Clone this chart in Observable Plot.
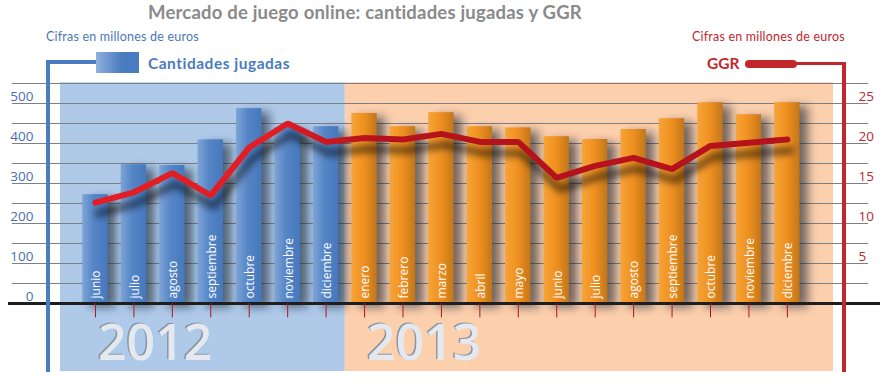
<!DOCTYPE html>
<html>
<head>
<meta charset="utf-8">
<script src="https://cdn.jsdelivr.net/npm/d3@7"></script>
<script src="https://cdn.jsdelivr.net/npm/@observablehq/plot@0.6"></script>
<style>
  html, body { margin: 0; padding: 0; background: #fff; }
  #wrap { position: relative; width: 892px; height: 382px; overflow: hidden; font-family: Lato, "Open Sans", sans-serif; }
  #header { position: relative; height: 80px; }
  .abs { position: absolute; white-space: nowrap; }
  #title { left: 148px; top: 1px; font-size: 18.5px; letter-spacing: 0.2px; font-weight: 700; color: #8a8a8a; line-height: 22px; }
  .sub { top: 29px; font-size: 12.5px; letter-spacing: 0.2px; line-height: 16px; }
  #subL { left: 46px; color: #4a78b8; }
  #subR { left: 692px; color: #c1272d; }
  #legL { left: 148px; top: 54px; font-size: 15.5px; letter-spacing: 0.5px; font-weight: 700; color: #4a7cc0; line-height: 18px; }
  #legR { left: 707px; top: 54px; font-size: 15.5px; font-weight: 700; color: #c1272d; line-height: 18px; }
  #swatchL { left: 96px; top: 52px; width: 43px; height: 21px; background: linear-gradient(to right, #8fb0dc, #4a7cc0 60%, #4a7cc0); }
  #swatchR { left: 745px; top: 60px; width: 52px; height: 8px; border-radius: 4px; background: #c1272d; }
  .line { position: absolute; z-index: 5; }
  #chart { position: relative; }
</style>
</head>
<body>
<div id="wrap">
  <div id="header">
    <div class="abs" id="title">Mercado de juego online: cantidades jugadas y GGR</div>
    <div class="abs sub" id="subL">Cifras en millones de euros</div>
    <div class="abs sub" id="subR">Cifras en millones de euros</div>
    <div class="abs" id="swatchL"></div>
    <div class="abs" id="legL">Cantidades jugadas</div>
    <div class="abs" id="legR">GGR</div>
    <div class="abs" id="swatchR"></div>
  </div>
  <div id="chart"></div>
  <div class="line" style="left:46px;top:60px;width:4px;height:312px;background:#4a7cc0"></div>
  <div class="line" style="left:46px;top:60px;width:50px;height:4px;background:#4a7cc0"></div>
  <div class="line" style="left:842px;top:62px;width:4px;height:310px;background:#c1272d"></div>
  <div class="line" style="left:796px;top:62px;width:50px;height:3px;background:#c1272d"></div>
</div>
<script>
// ---- Data ----
const months = ["junio","julio","agosto","septiembre","octubre","noviembre","diciembre",
                "enero","febrero","marzo","abril","mayo","junio","julio","agosto","septiembre","octubre","noviembre","diciembre"];
const years = ["2012","2012","2012","2012","2012","2012","2012",
               "2013","2013","2013","2013","2013","2013","2013","2013","2013","2013","2013","2013"];
const cantidades = [272, 347, 345, 409, 487, 440, 442, 475, 442, 477, 442, 439, 417, 410, 435, 462, 502, 472, 502];
const ggr = [12.6, 13.9, 16.3, 13.5, 19.5, 22.5, 20.2, 20.7, 20.5, 21.2, 20.2, 20.2, 15.7, 17.2, 18.2, 16.8, 19.7, 20.1, 20.5];
const leftTicks = [0, 100, 200, 300, 400, 500];
const rightTicks = [5, 10, 15, 20, 25];
const gridValues = [50, 100, 150, 200, 250, 300, 350, 400, 450, 500, 550];
const yearNames = ["2012", "2013"];
const axisRatio = 20; // right axis (GGR) = left axis / 20

// ---- Build table ----
const data = months.map((m, i) => ({i, month: m, year: years[i], value: cantidades[i], ggr: ggr[i]}));
const yearBands = yearNames.map((y, k) => {
  const idx = data.filter(d => d.year === y).map(d => d.i);
  const first = d3.min(idx), last = d3.max(idx);
  return {year: y, first, x1: k === 0 ? first - 0.91 : first - 0.5, x2: k === 0 ? last + 0.5 : last + 1.2};
});
const hw = 0.33;
const yTop = 552, yBottom = -170;

const svg = Plot.plot({
  width: 892,
  height: 302,
  marginLeft: 60,
  marginRight: 59,
  marginTop: 2.2,
  marginBottom: 11,
  x: {domain: [-0.91, 19.2], axis: null},
  y: {domain: [yBottom, yTop], axis: null},
  style: {fontFamily: "Lato, 'Open Sans', sans-serif", background: "transparent", overflow: "visible"},
  marks: [
    Plot.rect(yearBands, {x1: "x1", x2: "x2", y1: yBottom, y2: yTop, fill: d => d.year === "2012" ? "#afcae9" : "#fccfad"}),
    Plot.ruleY(gridValues, {y: d => d, stroke: "#7b7f86", strokeWidth: 1, insetLeft: -48, insetRight: -35}),
    Plot.rect(data, {x1: d => d.i - hw, x2: d => d.i + hw, y1: 0, y2: "value", fill: "#0d1a2c", fillOpacity: 0.6, dx: 8, dy: 4, ariaDescription: "barshadow"}),
    Plot.rect(data.filter(d => d.year === "2012"), {x1: d => d.i - hw, x2: d => d.i + hw, y1: 0, y2: "value", fill: "url(#gBlue)"}),
    Plot.rect(data.filter(d => d.year === "2013"), {x1: d => d.i - hw, x2: d => d.i + hw, y1: 0, y2: "value", fill: "url(#gOrange)"}),
    Plot.text(data, {x: "i", y: 0, text: "month", rotate: -90, textAnchor: "start", lineAnchor: "middle", dy: -5, dx: 1, fill: "white", fontSize: 12, fontFamily: "'Open Sans', sans-serif"}),
    Plot.line(data, {x: "i", y: d => d.ggr * axisRatio, stroke: "#000", strokeOpacity: 0.55, strokeWidth: 7, dx: 3, dy: 11, ariaDescription: "lineshadow"}),
    Plot.line(data, {x: "i", y: d => d.ggr * axisRatio, stroke: "url(#gRed)", strokeWidth: 6, strokeLinejoin: "miter", strokeLinecap: "round"}),
    Plot.ruleY([0], {stroke: "#1e1e1e", strokeWidth: 3, insetLeft: -52, insetRight: -47}),
    Plot.ruleX(data, {x: "i", y1: 0, y2: -36, stroke: "#b5121b", strokeWidth: 1}),
    Plot.text(yearBands, {x: "first", y: 0, text: "year", textAnchor: "start", lineAnchor: "middle", dy: 39, dx: 1, fontSize: 50, fontWeight: 600, fill: "#8a94a3", fontFamily: "'Open Sans', sans-serif"}),
    Plot.text(yearBands, {x: "first", y: 0, text: "year", textAnchor: "start", lineAnchor: "middle", dy: 40, dx: 2.5, fontSize: 50, fontWeight: 600, fill: "#e4e9f0", fontFamily: "'Open Sans', sans-serif"}),
    Plot.text(leftTicks, {y: d => d, text: d => String(d), frameAnchor: "left", dx: -27, dy: -7, textAnchor: "end", fill: "#4a6fae", fontSize: 13.5, fontFamily: "'Open Sans', sans-serif"}),
    Plot.text(rightTicks, {y: d => d * axisRatio, text: d => String(d), frameAnchor: "right", dx: 25, dy: -7, textAnchor: "start", fill: "#c1272d", fontSize: 13.5, fontFamily: "'Open Sans', sans-serif"})
  ]
});

// gradients and filters
const s = d3.select(svg);
const defs = s.insert("defs", ":first-child");
const gb = defs.append("linearGradient").attr("id", "gBlue").attr("x1", 0).attr("x2", 1).attr("y1", 0).attr("y2", 0);
gb.append("stop").attr("offset", "0%").attr("stop-color", "#7ea4d6");
gb.append("stop").attr("offset", "45%").attr("stop-color", "#5585c6");
gb.append("stop").attr("offset", "100%").attr("stop-color", "#4578bd");
const go = defs.append("linearGradient").attr("id", "gOrange").attr("x1", 0).attr("x2", 1).attr("y1", 0).attr("y2", 0);
go.append("stop").attr("offset", "0%").attr("stop-color", "#f6a437");
go.append("stop").attr("offset", "50%").attr("stop-color", "#ef9020");
go.append("stop").attr("offset", "100%").attr("stop-color", "#c2761a");
const gr = defs.append("linearGradient").attr("id", "gRed").attr("gradientUnits", "userSpaceOnUse")
  .attr("x1", 270).attr("x2", 380).attr("y1", 0).attr("y2", 0);
gr.append("stop").attr("offset", "0%").attr("stop-color", "#e21d24");
gr.append("stop").attr("offset", "100%").attr("stop-color", "#b5121b");
const f1 = defs.append("filter").attr("id", "blurBar").attr("x", "-10%").attr("y", "-10%").attr("width", "120%").attr("height", "120%");
f1.append("feGaussianBlur").attr("stdDeviation", 5);
const f2 = defs.append("filter").attr("id", "blurLine").attr("x", "-10%").attr("y", "-20%").attr("width", "120%").attr("height", "140%");
f2.append("feGaussianBlur").attr("stdDeviation", 3.5);
s.selectAll('[aria-description="barshadow"]').attr("filter", "url(#blurBar)");
s.selectAll('[aria-description="lineshadow"]').attr("filter", "url(#blurLine)");

document.getElementById("chart").appendChild(svg);
</script>
</body>
</html>
